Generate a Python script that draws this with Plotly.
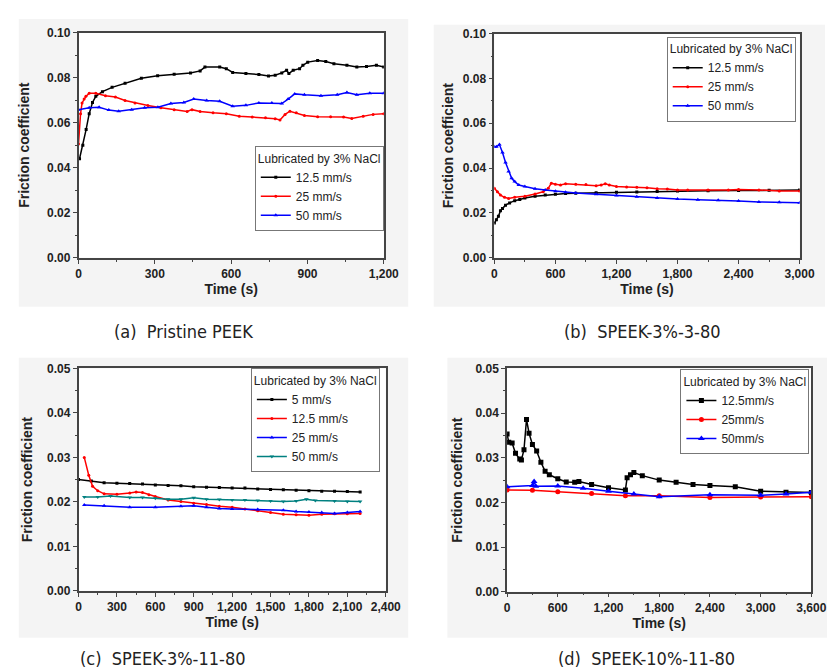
import plotly.graph_objects as go

W, H = 835, 672

# ---------------- data ----------------
# (a) Pristine PEEK
a_t_125 = [4, 17, 30, 42, 55, 68, 94, 132, 183, 247, 311, 376, 440, 478, 497, 555, 581, 606, 658, 709, 747, 773, 799, 818, 827, 844, 869, 882, 901, 940, 972, 1004, 1055, 1094, 1132, 1171, 1200]
a_v_125 = [0.044, 0.050, 0.057, 0.064, 0.069, 0.0717, 0.0738, 0.0757, 0.0775, 0.0797, 0.0808, 0.0815, 0.0821, 0.0830, 0.0847, 0.0847, 0.0840, 0.0823, 0.0818, 0.0814, 0.0807, 0.0811, 0.0821, 0.0833, 0.0818, 0.0833, 0.0840, 0.0855, 0.0869, 0.0876, 0.0872, 0.0862, 0.0855, 0.0847, 0.0850, 0.0855, 0.0847]
a_t_25 = [0, 8, 14, 22, 29, 42, 68, 106, 145, 183, 222, 273, 324, 376, 427, 446, 478, 529, 581, 632, 683, 735, 773, 792, 812, 831, 856, 888, 940, 991, 1042, 1074, 1119, 1158, 1200]
a_v_25 = [0.0506, 0.064, 0.0688, 0.0705, 0.0717, 0.0731, 0.0731, 0.0720, 0.0714, 0.0699, 0.0688, 0.0676, 0.0666, 0.0658, 0.0650, 0.0658, 0.0650, 0.0644, 0.0640, 0.0629, 0.0625, 0.0622, 0.0618, 0.0612, 0.0637, 0.0651, 0.0644, 0.0632, 0.0626, 0.0626, 0.0625, 0.0619, 0.0629, 0.0637, 0.0640]
a_t_50 = [0, 42, 81, 119, 158, 209, 260, 312, 363, 414, 453, 504, 555, 606, 658, 709, 760, 799, 824, 850, 888, 953, 1017, 1055, 1094, 1145, 1200]
a_v_50 = [0.0658, 0.0666, 0.0669, 0.0656, 0.0651, 0.0658, 0.0666, 0.0669, 0.0685, 0.0690, 0.0705, 0.0699, 0.0695, 0.0673, 0.0677, 0.0688, 0.0688, 0.0685, 0.0705, 0.0728, 0.0724, 0.0720, 0.0724, 0.0734, 0.0724, 0.0731, 0.0731]

# (b) SPEEK-3%-3-80
b_t_125 = [0, 20, 40, 60, 80, 110, 150, 200, 250, 300, 400, 500, 600, 700, 800, 1000, 1200, 1400, 1600, 1800, 2100, 2400, 2700, 3000]
b_v_125 = [0.0155, 0.017, 0.0185, 0.021, 0.022, 0.0235, 0.0245, 0.0255, 0.026, 0.0267, 0.0275, 0.028, 0.0284, 0.0287, 0.0288, 0.029, 0.0292, 0.0294, 0.0296, 0.0298, 0.0299, 0.030, 0.0301, 0.0302]
b_t_25 = [0, 30, 60, 100, 140, 200, 300, 400, 480, 530, 560, 600, 650, 700, 800, 900, 1000, 1050, 1090, 1130, 1200, 1300, 1400, 1500, 1600, 1700, 1800, 1900, 2100, 2300, 2400, 2600, 2800, 3000]
b_v_25 = [0.031, 0.0295, 0.028, 0.027, 0.0265, 0.027, 0.0275, 0.0285, 0.0295, 0.031, 0.0333, 0.0328, 0.0325, 0.033, 0.0328, 0.0327, 0.0322, 0.0325, 0.033, 0.0325, 0.0318, 0.0316, 0.0315, 0.0313, 0.0308, 0.0307, 0.0302, 0.0303, 0.0302, 0.0302, 0.0305, 0.0303, 0.0298, 0.0298]
b_t_50 = [0, 20, 50, 80, 110, 140, 170, 200, 240, 300, 400, 500, 600, 700, 800, 1000, 1200, 1400, 1600, 1800, 2000, 2200, 2400, 2600, 2800, 3000]
b_v_50 = [0.0495, 0.0495, 0.0505, 0.047, 0.0425, 0.0385, 0.0355, 0.034, 0.0325, 0.0318, 0.0308, 0.0302, 0.0297, 0.0292, 0.0289, 0.0284, 0.0278, 0.0272, 0.0267, 0.0262, 0.0259, 0.0257, 0.0253, 0.0249, 0.0248, 0.0246]

# (c) SPEEK-3%-11-80
c_t_5 = [0, 100, 200, 300, 400, 500, 600, 700, 800, 900, 1000, 1100, 1200, 1300, 1400, 1500, 1600, 1700, 1800, 1900, 2000, 2100, 2200]
c_v_5 = [0.025, 0.0247, 0.0243, 0.0242, 0.0241, 0.024, 0.0238, 0.0237, 0.0236, 0.0234, 0.0233, 0.0232, 0.0231, 0.0231, 0.0229, 0.0228, 0.0227, 0.0226, 0.0225, 0.0224, 0.0224, 0.0223, 0.0222]
c_t_125 = [45, 80, 110, 150, 200, 300, 400, 450, 500, 550, 600, 700, 800, 900, 1000, 1100, 1200, 1300, 1400, 1500, 1600, 1700, 1800, 1900, 2000, 2100, 2200]
c_v_125 = [0.030, 0.026, 0.0235, 0.0225, 0.0218, 0.0217, 0.022, 0.0222, 0.0221, 0.0216, 0.0212, 0.0204, 0.0201, 0.0197, 0.0194, 0.019, 0.0188, 0.0184, 0.018, 0.0176, 0.0172, 0.0171, 0.017, 0.0172, 0.0173, 0.0173, 0.0174]
c_t_25 = [45, 200, 400, 600, 800, 900, 1000, 1100, 1200, 1400, 1600, 1700, 1800, 1900, 2000, 2100, 2200]
c_v_25 = [0.0193, 0.0191, 0.0188, 0.0188, 0.019, 0.0191, 0.0188, 0.0185, 0.0184, 0.0183, 0.0181, 0.0178, 0.0177, 0.0176, 0.0174, 0.0176, 0.0178]
c_t_50 = [45, 150, 250, 400, 500, 600, 700, 800, 900, 1000, 1100, 1200, 1300, 1400, 1500, 1600, 1700, 1780, 1850, 2000, 2100, 2200]
c_v_50 = [0.0211, 0.0211, 0.0213, 0.021, 0.021, 0.0208, 0.0206, 0.0206, 0.0209, 0.0206, 0.0205, 0.0204, 0.0204, 0.0203, 0.0202, 0.0201, 0.0202, 0.0206, 0.0203, 0.0202, 0.0201, 0.0201]

# (d) SPEEK-10%-11-80
d_t_125 = [0, 20, 60, 100, 150, 170, 200, 230, 260, 300, 350, 400, 450, 500, 600, 700, 800, 850, 1000, 1200, 1400, 1420, 1460, 1500, 1600, 1800, 2000, 2200, 2400, 2700, 3000, 3300, 3600]
d_v_125 = [0.0353, 0.0335, 0.0333, 0.031, 0.0297, 0.0295, 0.0318, 0.0386, 0.0355, 0.033, 0.0315, 0.029, 0.027, 0.0262, 0.0253, 0.0246, 0.0245, 0.0247, 0.024, 0.0233, 0.0228, 0.0255, 0.0262, 0.0267, 0.026, 0.025, 0.0245, 0.024, 0.0238, 0.0235, 0.0225, 0.0223, 0.0222]
d_t_25 = [0, 300, 600, 1000, 1400, 1800, 2400, 3000, 3600]
d_v_25 = [0.0228, 0.0227, 0.0224, 0.022, 0.0215, 0.0215, 0.0211, 0.0212, 0.0213]
d_t_50 = [0, 300, 320, 340, 600, 900, 1200, 1500, 1800, 2400, 3000, 3300, 3600]
d_v_50 = [0.0235, 0.0238, 0.0247, 0.0236, 0.0237, 0.0232, 0.0225, 0.0219, 0.0213, 0.0217, 0.0216, 0.0219, 0.0223]

captions = ["(a)  Pristine PEEK", "(b)  SPEEK-3%-3-80", "(c)  SPEEK-3%-11-80", "(d)  SPEEK-10%-11-80"]
legend_title = "Lubricated by 3% NaCl"

# ---------------- layout helpers ----------------
def fx(px):
    return px / W

def fy(py):
    return 1 - py / H

BLACK, RED, BLUE, TEAL = "#000000", "#ff0000", "#0000ff", "#008080"
FONT = "Liberation Sans, Arial, sans-serif"
NARROW = "Liberation Sans Narrow, Arial Narrow, DejaVu Sans Condensed, Noto Sans Condensed, sans-serif"

panels = [
    dict(ax="", plot=(69, 18, 381, 248), bg=(8, 4, 406, 298), xr=(0, 1200), xd=300, yr=(0, 0.10), yd=0.02,
         legend="legend", leg=(381, 134), cap=(176, 323), ystand=14,
         series=[(a_t_125, a_v_125, "12.5 mm/s", BLACK, "square", 3),
                 (a_t_25, a_v_25, "25 mm/s", RED, "circle", 3),
                 (a_t_50, a_v_50, "50 mm/s", BLUE, "triangle-up", 4)]),
    dict(ax="2", plot=(494, 19, 806, 248), bg=(432, 10, 832, 298), xr=(0, 3000), xd=600, yr=(0, 0.10), yd=0.02,
         legend="legend2", leg=(802, 22), cap=(645, 323), ystand=6,
         series=[(b_t_125, b_v_125, "12.5 mm/s", BLACK, "square", 3),
                 (b_t_25, b_v_25, "25 mm/s", RED, "circle", 3),
                 (b_t_50, b_v_50, "50 mm/s", BLUE, "triangle-up", 4)]),
    dict(ax="3", plot=(69, 361, 383, 588), bg=(8, 350, 406, 636), xr=(0, 2400), xd=300, yr=(0, 0.05), yd=0.01,
         legend="legend3", leg=(377, 361), cap=(155, 657), ystand=11,
         series=[(c_t_5, c_v_5, "5 mm/s", BLACK, "square", 3),
                 (c_t_125, c_v_125, "12.5 mm/s", RED, "circle", 3),
                 (c_t_25, c_v_25, "25 mm/s", BLUE, "triangle-up", 4),
                 (c_t_50, c_v_50, "50 mm/s", TEAL, "triangle-down", 4)]),
    dict(ax="4", plot=(507, 361, 818, 589), bg=(446, 350, 835, 636), xr=(0, 3600), xd=600, yr=(0, 0.05), yd=0.01,
         legend="legend4", leg=(816, 362), cap=(650, 657), ystand=10,
         series=[(d_t_125, d_v_125, "12.5mm/s", BLACK, "square", 5),
                 (d_t_25, d_v_25, "25mm/s", RED, "circle", 5),
                 (d_t_50, d_v_50, "50mm/s", BLUE, "triangle-up", 6)]),
]

fig = go.Figure()
layout = dict(
    width=W, height=H,
    margin=dict(l=0, r=0, t=0, b=0),
    paper_bgcolor="white", plot_bgcolor="white",
    font=dict(family=FONT, color="#222"),
    showlegend=True,
    shapes=[], annotations=[],
)

tickfont = dict(family=FONT, size=12, color="#222", weight="bold")
titlefont = dict(family=FONT, size=14, color="#222", weight="bold")

for i, p in enumerate(panels):
    x0, y0, x1, y1 = p["plot"]
    xa, ya = "x" + p["ax"], "y" + p["ax"]
    for (t, v, name, col, sym, ms) in p["series"]:
        fig.add_trace(go.Scatter(
            x=t, y=v, name=name, mode="lines+markers",
            line=dict(color=col, width=1.5),
            marker=dict(symbol=sym, size=ms, color=col),
            xaxis=xa, yaxis=ya, legend=p["legend"],
        ))
    axis_common = dict(
        showline=True, linecolor="#444", linewidth=1.5, mirror=True,
        ticks="outside", ticklen=4, tickwidth=1.2, tickcolor="#444",
        showgrid=False, zeroline=False, tickfont=tickfont,
    )
    layout["xaxis" + p["ax"]] = dict(
        axis_common, domain=[fx(x0), fx(x1)], range=list(p["xr"]), dtick=p["xd"], tick0=0,
        tickformat=",d", anchor=ya,
        minor=dict(ticks="outside", ticklen=2, tickcolor="#444", dtick=p["xd"] / 2, tick0=0),
        title=dict(text="Time (s)", font=titlefont, standoff=2),
    )
    layout["yaxis" + p["ax"]] = dict(
        axis_common, domain=[fy(y1), fy(y0)], range=list(p["yr"]), dtick=p["yd"], tick0=0,
        tickformat=".2f", anchor=xa,
        minor=dict(ticks="outside", ticklen=2, tickcolor="#444", dtick=p["yd"] / 2, tick0=0),
        title=dict(text="Friction coefficient", font=titlefont, standoff=p["ystand"]),
    )
    lx, ly = p["leg"]
    layout[p["legend"]] = dict(
        x=fx(lx), y=fy(ly), xanchor="right", yanchor="top",
        bgcolor="white", bordercolor="#777", borderwidth=1,
        font=dict(family=FONT, size=12, color="#222"),
        title=dict(text=legend_title, font=dict(family=FONT, size=12, color="#222")),
        itemwidth=30, tracegroupgap=0,
    )
    bx0, by0, bx1, by1 = p["bg"]
    layout["shapes"].append(dict(type="rect", xref="paper", yref="paper", layer="below",
                                 x0=fx(bx0), x1=fx(bx1), y0=fy(by1), y1=fy(by0),
                                 fillcolor="#f4f4f4", line=dict(width=0)))
    layout["shapes"].append(dict(type="rect", xref="paper", yref="paper", layer="below",
                                 x0=fx(x0), x1=fx(x1), y0=fy(y1), y1=fy(y0),
                                 fillcolor="white", line=dict(width=0)))
    cx, cy = p["cap"]
    layout["annotations"].append(dict(
        text=captions[i], xref="paper", yref="paper", x=fx(cx), y=fy(cy),
        xanchor="center", yanchor="middle", showarrow=False,
        font=dict(family=NARROW, size=18, color="#222"),
    ))

fig.update_layout(**layout)
fig.write_html("out.html")
